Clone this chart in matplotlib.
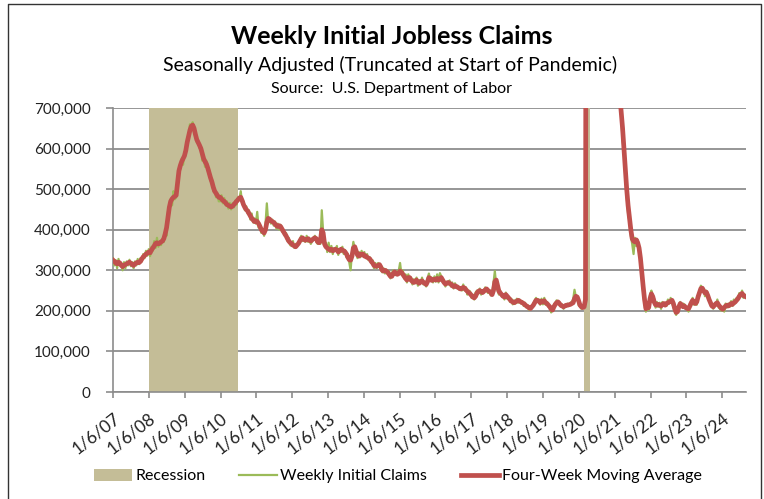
import matplotlib
matplotlib.use("Agg")
import matplotlib.pyplot as plt
from matplotlib.patches import Patch
from matplotlib.lines import Line2D
from matplotlib.ticker import FuncFormatter
import pandas as pd

plt.rcParams['font.family'] = ['Lato', 'DejaVu Sans']

# biweekly readings (thousands), one row per year starting 2007-01-06
weekly_claims = [
    330, 312, 325, 305, 328, 314, 318, 300, 320, 305, 322, 312, 326, 310, 320, 305, 322, 312, 328, 315, 330, 322, 340, 330, 348, 336,
    352, 335, 358, 348, 372, 355, 380, 358, 372, 362, 378, 370, 398, 385, 445, 440, 475, 460, 495, 475, 480, 520, 540, 550, 575, 560,
    590, 600, 625, 625, 660, 650, 665, 640, 630, 615, 620, 600, 605, 570, 580, 555, 570, 545, 545, 520, 525, 495, 500, 480, 490, 470,
    470, 485, 465, 478, 460, 470, 452, 466, 450, 465, 455, 472, 462, 480, 475, 495, 465, 470, 448, 458, 440, 448, 425, 440, 418, 428,
    415, 444, 405, 410, 392, 400, 385, 412, 465, 418, 428, 415, 425, 410, 420, 402, 415, 400, 412, 395, 400, 385, 392, 372, 380, 362,
    360, 372, 355, 365, 358, 368, 375, 385, 372, 380, 370, 385, 370, 380, 365, 372, 378, 385, 370, 365, 370, 365, 448, 395, 360, 368,
    345, 368, 345, 360, 340, 355, 348, 360, 338, 352, 345, 358, 340, 350, 332, 340, 320, 300, 345, 370, 352, 342, 330, 345, 332, 348,
    335, 345, 330, 340, 325, 332, 318, 325, 305, 318, 305, 318, 310, 302, 295, 305, 292, 302, 290, 298, 280, 292, 300, 295, 288, 298,
    298, 318, 290, 300, 280, 290, 270, 290, 275, 282, 265, 278, 268, 282, 262, 276, 268, 282, 265, 272, 260, 280, 292, 275, 282, 270,
    285, 272, 290, 270, 293, 285, 270, 275, 260, 272, 265, 275, 260, 270, 255, 268, 258, 262, 252, 258, 250, 265, 250, 258, 240, 250,
    248, 232, 240, 228, 245, 250, 242, 255, 240, 250, 245, 258, 250, 244, 250, 238, 242, 268, 298, 262, 250, 240, 250, 235, 240, 228,
    245, 230, 235, 222, 230, 216, 226, 218, 230, 220, 228, 218, 224, 212, 220, 208, 214, 202, 210, 210, 218, 225, 232, 222, 228, 215,
    230, 216, 232, 215, 222, 210, 212, 196, 205, 215, 220, 226, 218, 222, 210, 216, 205, 215, 210, 218, 212, 220, 222, 228, 252, 234,
    234, 214, 212, 205, 210, 216, 282, 6900, 5200, 3800, 2700, 2100, 1570, 1400, 1300, 1200, 1100, 1000, 880, 860, 820, 780, 760, 740, 800, 880,
    880, 800, 900, 830, 770, 720, 680, 620, 590, 530, 480, 440, 420, 385, 365, 340, 380, 360, 375, 345, 320, 280, 245, 215, 198, 222,
    202, 240, 250, 228, 230, 208, 222, 210, 220, 205, 222, 212, 220, 212, 228, 218, 232, 220, 210, 198, 190, 205, 215, 222, 210, 218,
    216, 204, 210, 198, 218, 214, 232, 215, 225, 215, 240, 238, 262, 250, 255, 236, 250, 232, 232, 215, 216, 205, 218, 215, 228, 208,
    205, 200, 210, 198, 218, 208, 218, 210, 224, 212, 228, 218, 232, 228, 244, 236, 250, 232, 240,
]

moving_avg = [
    325, 322, 318, 316, 320, 318, 312, 309, 312, 314, 316, 318, 320, 317, 314, 312, 316, 318, 320, 319, 322, 328, 333, 336, 340, 342,
    345, 343, 350, 355, 360, 366, 368, 365, 367, 370, 372, 378, 390, 405, 430, 455, 470, 476, 480, 482, 485, 515, 545, 558, 568, 575,
    582, 595, 615, 630, 645, 655, 658, 650, 635, 622, 615, 608, 600, 588, 575, 568, 562, 552, 540, 528, 518, 505, 495, 490, 484, 480,
    480, 476, 472, 470, 466, 462, 460, 458, 456, 458, 462, 466, 470, 474, 478, 480, 472, 462, 455, 450, 446, 440, 434, 428, 424, 420,
    422, 420, 415, 408, 400, 396, 392, 400, 418, 428, 426, 422, 420, 418, 414, 410, 408, 410, 408, 402, 396, 390, 385, 378, 372, 368,
    366, 362, 360, 358, 362, 366, 372, 378, 380, 376, 374, 376, 378, 374, 372, 375, 378, 380, 378, 370, 368, 372, 400, 392, 365, 358,
    355, 352, 350, 352, 348, 350, 352, 350, 345, 348, 352, 350, 348, 345, 340, 332, 326, 325, 335, 355, 358, 348, 338, 335, 340, 338,
    340, 335, 335, 332, 330, 328, 322, 318, 312, 310, 310, 312, 314, 308, 300, 298, 300, 298, 295, 290, 285, 285, 292, 296, 292, 290,
    292, 298, 295, 290, 285, 280, 276, 282, 282, 276, 272, 270, 272, 276, 270, 268, 272, 274, 270, 268, 265, 272, 282, 280, 275, 276,
    278, 276, 280, 276, 278, 282, 276, 270, 266, 268, 270, 268, 266, 262, 260, 262, 260, 258, 256, 254, 255, 258, 256, 252, 248, 245,
    242, 238, 234, 232, 236, 244, 248, 250, 248, 245, 248, 252, 254, 250, 248, 245, 240, 250, 272, 276, 262, 248, 244, 240, 236, 234,
    240, 236, 232, 228, 224, 222, 220, 222, 224, 226, 224, 222, 220, 218, 215, 212, 210, 207, 206, 210, 214, 220, 226, 226, 224, 220,
    224, 222, 225, 220, 218, 214, 210, 204, 202, 210, 216, 220, 222, 218, 214, 212, 210, 212, 214, 214, 215, 216, 218, 220, 230, 236,
    234, 225, 214, 210, 208, 210, 228, 2670, 5500, 3900, 2800, 2200, 1700, 1450, 1350, 1250, 1150, 1050, 950, 880, 840, 800, 780, 760, 780, 820,
    850, 830, 870, 850, 790, 730, 690, 650, 600, 550, 500, 460, 430, 400, 378, 372, 370, 375, 368, 355, 330, 295, 260, 228, 205, 212,
    208, 230, 242, 235, 222, 215, 214, 216, 214, 212, 216, 218, 214, 218, 220, 222, 224, 226, 218, 205, 196, 198, 210, 218, 215, 210,
    212, 208, 206, 205, 212, 220, 226, 222, 218, 222, 235, 245, 255, 256, 250, 244, 246, 238, 228, 220, 212, 210, 214, 218, 220, 214,
    210, 206, 204, 208, 212, 214, 212, 215, 218, 216, 220, 222, 226, 230, 236, 240, 243, 238, 236,
]

recessions = [("2008-01-06", "2010-07-04"), ("2020-03-01", "2020-05-01")]
tick_labels = ["1/6/%02d" % y for y in range(7, 25)]

dates = pd.date_range("2007-01-06", periods=len(weekly_claims), freq="14D")
wc = [v * 1000 for v in weekly_claims]
ma = [v * 1000 for v in moving_avg]

fig = plt.figure(figsize=(7.64, 4.99), dpi=100)
W, H = 764, 499
ax = fig.add_axes([113 / W, 1 - 392 / H, (746 - 113) / W, (392 - 108) / H])

tan = '#C4BD97'
for a, b in recessions:
    ax.axvspan(pd.Timestamp(a), pd.Timestamp(b), color=tan, lw=0, zorder=1)

ax.plot(dates, wc, color='#9BBB59', lw=1.6, zorder=3)
ax.plot(dates, ma, color='#C0504D', lw=3.4, zorder=4, solid_joinstyle='round')

ax.set_ylim(0, 700000)
ax.set_xlim(pd.Timestamp("2007-01-06"), pd.Timestamp("2024-09-05"))
ax.set_yticks(range(0, 700001, 100000))
ax.yaxis.set_major_formatter(FuncFormatter(lambda v, p: f"{int(v):,}"))
ax.grid(axis='y', color='#969696', lw=1.4, zorder=0)
ax.set_axisbelow(True)

xt = [pd.Timestamp(2007 + i, 1, 6) for i in range(len(tick_labels))]
ax.set_xticks(xt)
ax.set_xticklabels(tick_labels, rotation=38, ha='right', rotation_mode='anchor')

for s in ['top', 'right']:
    ax.spines[s].set_visible(False)
for s in ['left', 'bottom']:
    ax.spines[s].set_color('#8C8C8C')
    ax.spines[s].set_linewidth(1.2)
ax.tick_params(axis='y', direction='out', length=5, width=1.2, color='#8C8C8C',
               labelsize=11, pad=11, labelcolor='#222222')
ax.tick_params(axis='x', direction='out', length=4, width=1.2, color='#8C8C8C',
               labelsize=12.5, pad=9, labelcolor='#222222')

fig.text(392 / W, 1 - 37 / H, "Weekly Initial Jobless Claims", ha='center', va='center',
         fontsize=18, fontweight='bold')
fig.text(390 / W, 1 - 65 / H, "Seasonally Adjusted (Truncated at Start of Pandemic)",
         ha='center', va='center', fontsize=14)
fig.text(391 / W, 1 - 89 / H, "Source:  U.S. Department of Labor", ha='center', va='center',
         fontsize=11.5)

handles = [Patch(facecolor=tan, edgecolor='none'),
           Line2D([], [], color='#9BBB59', lw=1.6),
           Line2D([], [], color='#C0504D', lw=3.4)]
fig.legend(handles, ["Recession", "Weekly Initial Claims", "Four-Week Moving Average"],
           loc='center', bbox_to_anchor=(398 / W, 1 - 476 / H), ncol=3, frameon=False,
           fontsize=11.5, handlelength=2.4, handleheight=0.8, handletextpad=0.2,
           columnspacing=2.1)

# outer frame
fx = [8 / W, 8 / W, 761 / W, 761 / W]
fy = [0, 1 - 4 / H, 1 - 4 / H, 0]
fig.add_artist(Line2D(fx, fy, color='#333333', lw=1.0, transform=fig.transFigure))

fig.savefig("out.png", dpi=100)
